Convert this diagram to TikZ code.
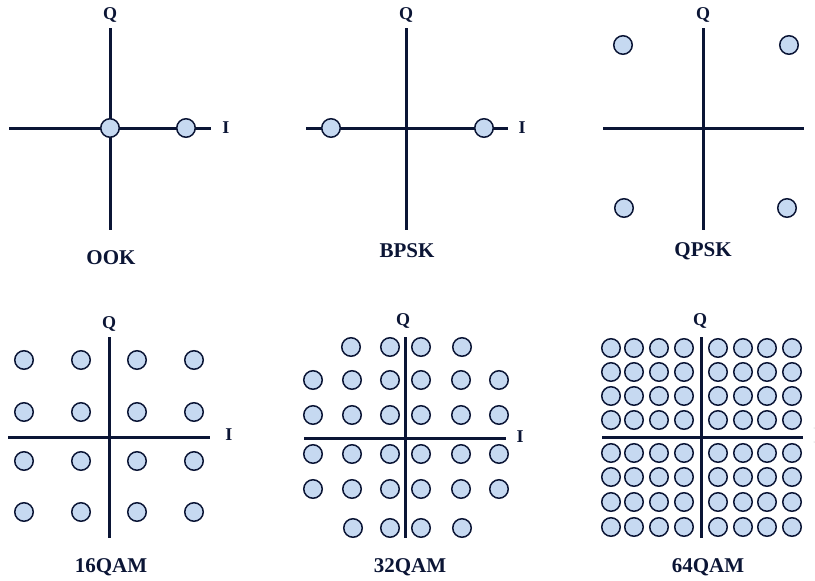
\documentclass[tikz,border=0pt]{standalone}
\usepackage{fontspec}
\setmainfont{Liberation Serif}
\definecolor{navy}{HTML}{0B1535}
\definecolor{ptfill}{HTML}{C6D9F1}
\tikzset{
 axisline/.style={line width=3pt, draw=navy},
 sym/.style={circle, draw=navy, line width=1.5pt, fill=ptfill, minimum size=18.5pt, inner sep=0pt},
 axlab/.style={font=\bfseries\fontsize{18}{18}\selectfont, text=navy, inner sep=0pt},
 title/.style={font=\bfseries\fontsize{21}{21}\selectfont, text=navy, inner sep=0pt},
}
\begin{document}
\begin{tikzpicture}[x=1pt,y=-1pt]
\useasboundingbox (0,0) rectangle (815,581);
% ---------- OOK ----------
\draw[axisline] (9,128) -- (211,128);
\draw[axisline] (110,28) -- (110,230);
\node[axlab] (ookQ) at (110,15) {Q};
\node[axlab] (ookI) at (226,128) {I};
\node[sym] (ook1) at (110,128) {};
\node[sym] (ook2) at (186,128) {};
\node[title] (ookT) at (111,258) {OOK};
% ---------- BPSK ----------
\draw[axisline] (306,128) -- (508,128);
\draw[axisline] (406,28) -- (406,230);
\node[axlab] (bpskQ) at (406,15) {Q};
\node[axlab] (bpskI) at (522,128) {I};
\node[sym] (bpsk1) at (331,128) {};
\node[sym] (bpsk2) at (484,128) {};
\node[title] (bpskT) at (407,251) {BPSK};
% ---------- QPSK ----------
\draw[axisline] (603,128) -- (804,128);
\draw[axisline] (703,28) -- (703,230);
\node[axlab] (qpskQ) at (703,15) {Q};
\node[sym] (qpsk1) at (623,45) {};
\node[sym] (qpsk2) at (789,45) {};
\node[sym] (qpsk3) at (624,208) {};
\node[sym] (qpsk4) at (787,208) {};
\node[title] (qpskT) at (703,251) {QPSK};
% ---------- 16QAM ----------
\draw[axisline] (8,437) -- (210,437);
\draw[axisline] (109,337) -- (109,538);
\node[axlab] (q16Q) at (109,324) {Q};
\node[axlab] (q16I) at (229,435) {I};
\foreach \x [count=\i] in {24,81,137,194}
  \foreach \y [count=\j] in {360,412,461,512}
    \node[sym] (q16-\i-\j) at (\x,\y) {};
\node[title] (q16T) at (111,567) {16QAM};
% ---------- 32QAM ----------
\draw[axisline] (304,438) -- (506,438);
\draw[axisline] (405,337) -- (405,538);
\node[axlab] (q32Q) at (403,321) {Q};
\node[axlab] (q32I) at (520,437) {I};
\foreach \x [count=\i] in {351,390,421,462}
  \node[sym] (q32a-\i) at (\x,347) {};
\foreach \y [count=\j] in {380,415,454,489}
  \foreach \x [count=\i] in {313,352,390,421,461,499}
    \node[sym] (q32b-\i-\j) at (\x,\y) {};
\foreach \x [count=\i] in {353,390,421,462}
  \node[sym] (q32c-\i) at (\x,528) {};
\node[title] (q32T) at (410,567) {32QAM};
% ---------- 64QAM ----------
\draw[axisline] (602,437) -- (803,437);
\draw[axisline] (701,337) -- (701,538);
\node[axlab] (q64Q) at (700,321) {Q};
\foreach \x [count=\i] in {611,634,659,684,718,743,767,792}
  \foreach \y [count=\j] in {348,372,396,420,453,477,502,527}
    \node[sym] (q64-\i-\j) at (\x,\y) {};
\node[title] (q64T) at (708,567) {64QAM};
\fill[gray!60] (814,428) circle (0.5);
\fill[gray!60] (814,442) circle (0.5);
\end{tikzpicture}
\end{document}
